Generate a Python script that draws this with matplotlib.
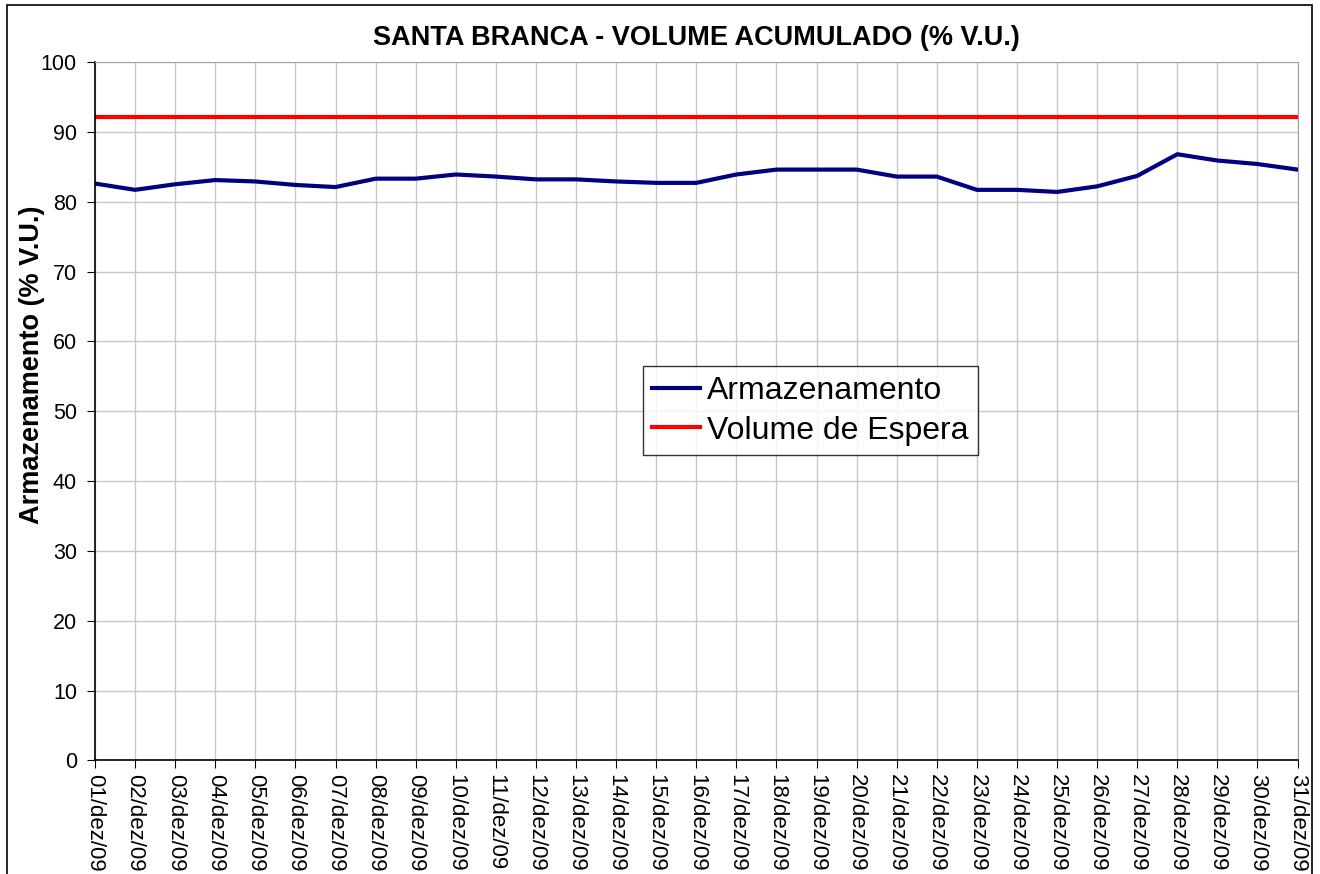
import matplotlib
matplotlib.use("Agg")
import matplotlib.pyplot as plt
from matplotlib.patches import Rectangle

plt.rcParams['font.family'] = ['Liberation Sans', 'DejaVu Sans']

# dados
dias = ['%02d/dez/09' % d for d in range(1, 32)]
armazenamento = [82.6, 81.7, 82.5, 83.1, 82.9, 82.4, 82.1, 83.3, 83.3, 83.9,
                 83.6, 83.2, 83.2, 82.9, 82.7, 82.7, 83.9, 84.6, 84.6, 84.6,
                 83.6, 83.6, 81.7, 81.7, 81.4, 82.2, 83.7, 86.8, 85.9, 85.4,
                 84.6]
volume_espera = [92.2] * 31
y_ticks = list(range(0, 101, 10))

def main():
    fig = plt.figure(figsize=(13.2, 8.74), dpi=100)
    ax = fig.add_axes([0.072, 0.130, 0.911, 0.799])

    x = list(range(len(dias)))
    ax.plot(x, armazenamento, color='#000080', lw=3, label='Armazenamento')
    ax.plot(x, volume_espera, color='#ff0000', lw=3, label='Volume de Espera')

    ax.set_xlim(0, len(dias) - 1)
    ax.set_ylim(0, 100)
    ax.set_yticks(y_ticks)
    ax.set_xticks(x)
    ax.set_xticklabels(dias, rotation=-90, fontsize=16)
    ax.tick_params(axis='y', labelsize=15.5, length=6, direction='out', pad=7)
    ax.tick_params(axis='x', length=6, direction='out', pad=4)
    ax.grid(True, color='#c8c8c8', lw=1)
    ax.set_axisbelow(True)

    for s in ['top', 'right']:
        ax.spines[s].set_color('#a0a0a0')
    ax.spines['left'].set_linewidth(1.2)
    ax.spines['bottom'].set_linewidth(1.2)

    ax.set_title('SANTA BRANCA - VOLUME ACUMULADO (% V.U.)', fontsize=19.5,
                 fontweight='bold', pad=12)
    # rótulo do eixo y (um pouco acima do centro, como no original)
    fig.text(32 / 1320, 1 - 365 / 874, 'Armazenamento (% V.U.)', rotation=90,
             fontsize=19.5, fontweight='bold', ha='center', va='center')

    leg = ax.legend(loc='lower left', bbox_to_anchor=(0.4555, 0.437),
                    fontsize=23, frameon=True, fancybox=False,
                    handlelength=1.5, handletextpad=0.2, borderpad=0.3,
                    labelspacing=0.3, borderaxespad=0)
    leg.get_frame().set_edgecolor('black')
    leg.get_frame().set_linewidth(1)

    # moldura da figura
    fig.patches.append(Rectangle((7 / 1320, -0.1), 1305 / 1320, 1.1 - 5 / 874,
                                 transform=fig.transFigure, fill=False,
                                 edgecolor='black', lw=1.2))

    fig.savefig('out.png', dpi=100)


if __name__ == "__main__":
    main()
